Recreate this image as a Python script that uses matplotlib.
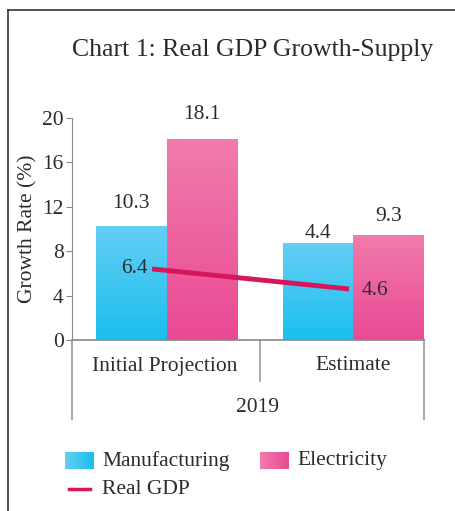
import numpy as np
import matplotlib
matplotlib.use("Agg")
import matplotlib.pyplot as plt

plt.rcParams["font.family"] = ["Liberation Serif", "DejaVu Serif"]

# data
categories = ["Initial Projection", "Estimate"]
group_label = "2019"
manufacturing = [10.2, 8.7]        # bar heights as drawn
electricity = [18.1, 9.4]
manufacturing_lbl = ["10.3", "4.4"]
electricity_lbl = ["18.1", "9.3"]
real_gdp = [6.4, 4.6]
yticks = [0, 4, 8, 12, 16, 20]

TXT = "#2b2b2b"
CYAN = ("#64cef3", "#1bbfee")
PINK = ("#f17bac", "#e94a94")
LINE = "#d7155b"
FS = 15.5

fig = plt.figure(figsize=(4.56, 5.11), dpi=100)

# overlay for frame, separators, legend (pixel coords)
fa = fig.add_axes([0, 0, 1, 1], zorder=0)
fa.axis("off")

ax = fig.add_axes([72 / 456, 1 - 340 / 511, (424 - 72) / 456, (340 - 118) / 511], zorder=1)
ax.patch.set_alpha(0)


def gradient(cols, vertical=True):
    c0 = np.array(matplotlib.colors.to_rgb(cols[0]))
    c1 = np.array(matplotlib.colors.to_rgb(cols[1]))
    t = np.linspace(0, 1, 64)[:, None]
    img = c0 * (1 - t) + c1 * t
    return img[:, None, :] if vertical else img[None, :, :]


w = 0.4
x = np.arange(len(categories))
grp_shift = [0.037, 0.097]   # groups sit a bit right of the category centre
centers = x + np.array(grp_shift)
for i in x:
    for vals, cols, off in [(manufacturing, CYAN, -w / 2), (electricity, PINK, w / 2)]:
        x0 = centers[i] + off - w / 2
        ax.imshow(gradient(cols), extent=[x0, x0 + w, 0, vals[i]], aspect="auto",
                  origin="upper", zorder=2)

ax.set_xlim(-0.5, 1.5)
ax.set_ylim(0, 20)

# bar labels
lbl_off = [(17, 18), (7, 14)]
for i in x:
    ax.annotate(manufacturing_lbl[i], (centers[i] - w / 2, manufacturing[i]), xytext=(0, lbl_off[i][0]),
                textcoords="offset points", ha="center", va="center", fontsize=FS, color=TXT)
    ax.annotate(electricity_lbl[i], (centers[i] + w / 2, electricity[i]), xytext=(0, lbl_off[i][1]),
                textcoords="offset points", ha="center", va="center", fontsize=FS, color=TXT)

# Real GDP line
line_x = x + np.array([-0.045, 0.074])
ax.plot(line_x, real_gdp, color=LINE, lw=3.5, solid_capstyle="butt", zorder=3)
ax.annotate(f"{real_gdp[0]}", (line_x[0], real_gdp[0]), xytext=(-3, 0), textcoords="offset points",
            ha="right", va="center", fontsize=FS, color=TXT, zorder=4)
ax.annotate(f"{real_gdp[1]}", (line_x[1], real_gdp[1]), xytext=(9, -1), textcoords="offset points",
            ha="left", va="center", fontsize=FS, color=TXT, zorder=4)

ax.set_yticks(yticks)
ax.set_xticks([])
ax.tick_params(axis="y", length=4, color="#888888", labelsize=FS, labelcolor=TXT, pad=2)
for s in ["top", "right"]:
    ax.spines[s].set_visible(False)
ax.spines["left"].set_color("#888888")
ax.spines["bottom"].set_color("#888888")
ax.spines["bottom"].set_linewidth(1.2)
ax.set_ylabel("Growth Rate (%)", fontsize=FS, color=TXT, labelpad=3)

# title
fa.text(253, 50, "Chart 1: Real GDP Growth-Supply", ha="center", va="center", fontsize=18.5, color=TXT)

# frame
fa.plot([8, 456], [10, 10], color="#333333", lw=1.2)
fa.plot([8, 8], [10, 511], color="#333333", lw=1.2)

# category axis separators and labels
fa.plot([72, 72], [340, 419], color="#999999", lw=1.2)
fa.plot([424, 424], [340, 419], color="#999999", lw=1.2)
fa.plot([260, 260], [340, 381], color="#999999", lw=1.2)
fa.text(165, 366, categories[0], ha="center", va="center", fontsize=FS, color=TXT)
fa.text(353, 366, categories[1], ha="center", va="center", fontsize=FS, color=TXT)
fa.text(258, 407, group_label, ha="center", va="center", fontsize=FS, color=TXT)

# legend
for (px, cols, name) in [(65, CYAN, "Manufacturing"), (260, PINK, "Electricity")]:
    fa.imshow(gradient(cols, vertical=False), extent=[px, px + 29, 469, 452], aspect="auto", origin="upper")
    fa.text(px + 37, 461, name, ha="left", va="center", fontsize=FS, color=TXT)
fa.plot([69, 90], [489, 489], color=LINE, lw=2.5)
fa.text(102, 489, "Real GDP", ha="left", va="center", fontsize=FS, color=TXT)
fa.set_xlim(0, 456)
fa.set_ylim(511, 0)

fig.savefig("out.png", dpi=100)
